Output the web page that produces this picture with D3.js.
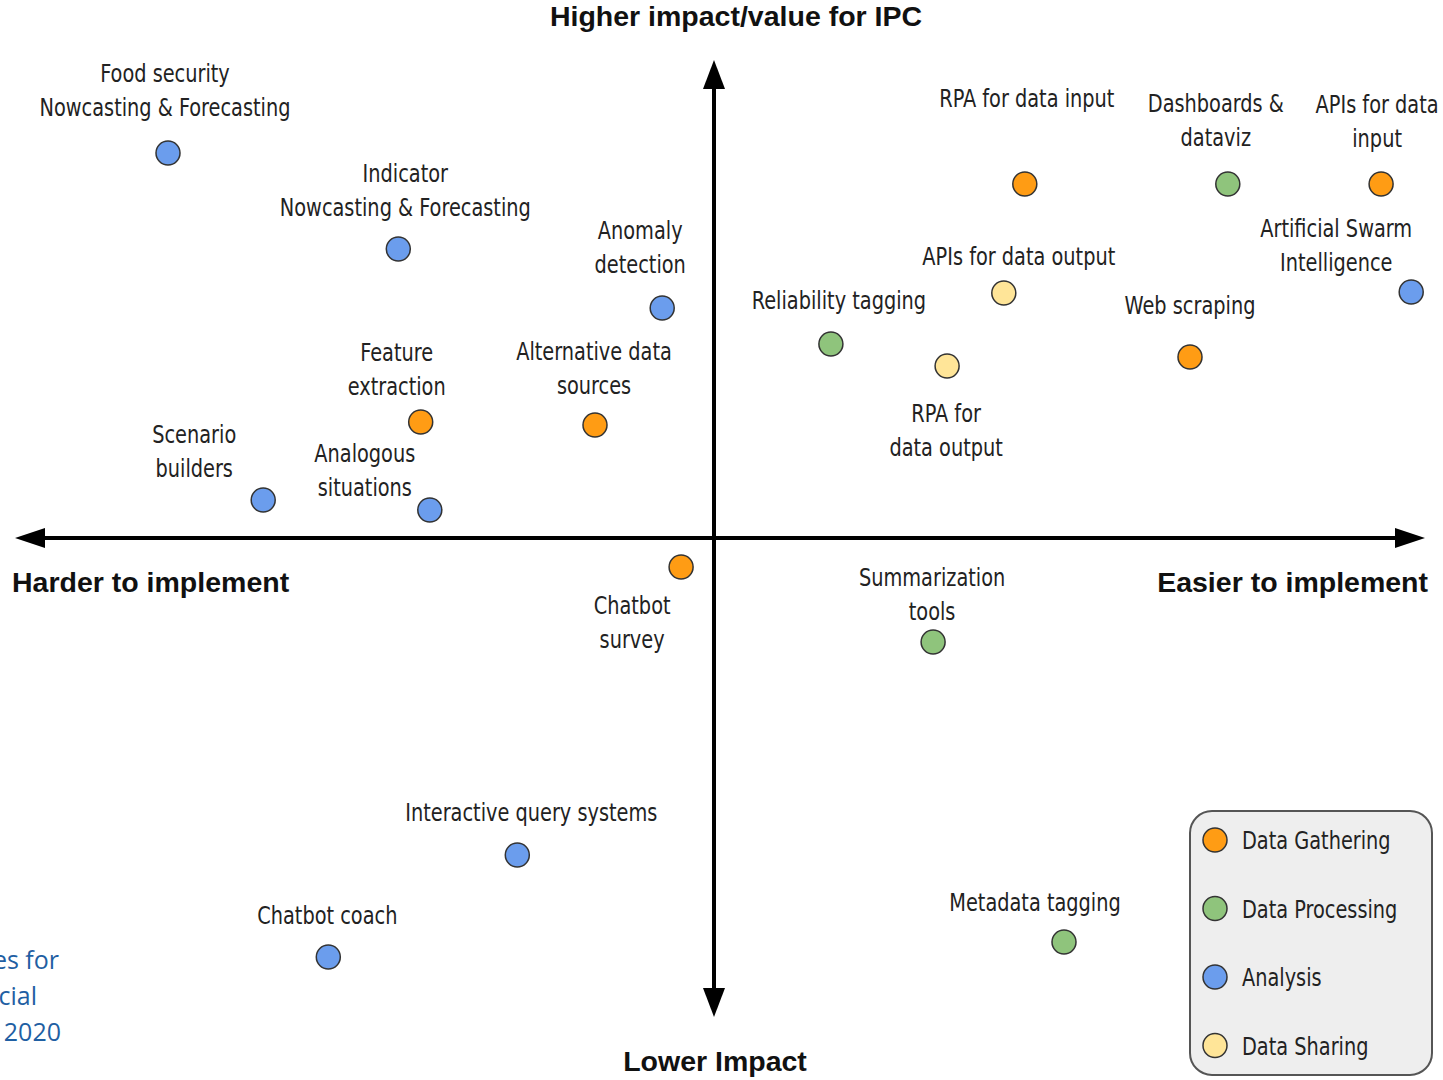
<!DOCTYPE html>
<html>
<head>
<meta charset="utf-8">
<script src="https://cdn.jsdelivr.net/npm/d3@7"></script>
<style>
  body { margin: 0; background: #fff; }
  svg { display: block; }
  .lbl { font-family: "DejaVu Sans Condensed", "DejaVu Sans", sans-serif; font-size: 25px; fill: #222; }
  .axt { font-family: "Liberation Sans", Arial, sans-serif; font-weight: bold; font-size: 28.5px; fill: #111; }
</style>
</head>
<body>
<div id="chart"></div>
<script>
var width = 1443, height = 1080;
var squeeze = 0.86; // narrow the label font horizontally

// categories and colours
var categories = ["Data Gathering", "Data Processing", "Analysis", "Data Sharing"];
var catColors = ["#ff9c14", "#8fc47c", "#6b9ded", "#ffe598"];

// items: ease (x, -100..100), impact (y, -100..100)
var names = [
  "Food security\nNowcasting & Forecasting",
  "Indicator\nNowcasting & Forecasting",
  "Anomaly\ndetection",
  "Feature\nextraction",
  "Alternative data\nsources",
  "Scenario\nbuilders",
  "Analogous\nsituations",
  "Chatbot\nsurvey",
  "Summarization\ntools",
  "Interactive query systems",
  "Chatbot coach",
  "Metadata tagging",
  "RPA for data input",
  "Dashboards &\ndataviz",
  "APIs for data\ninput",
  "Artificial Swarm\nIntelligence",
  "APIs for data output",
  "Reliability tagging",
  "Web scraping",
  "RPA for\ndata output"
];
var ease = [-78.0, -45.1, -7.4, -41.9, -17.0, -64.4, -40.6, -4.7, 31.3, -28.1, -55.1, 50.0, 44.4, 73.4, 95.3, 99.6, 41.4, 16.7, 68.0, 33.3];
var impact = [77.0, 57.8, 46.0, 23.2, 22.6, 7.6, 5.6, -5.8, -20.8, -63.4, -83.8, -80.8, 70.8, 70.8, 70.8, 49.2, 49.0, 38.8, 36.2, 34.4];
var group = [2, 2, 2, 0, 0, 2, 2, 0, 1, 2, 2, 1, 0, 1, 0, 2, 3, 1, 0, 3];

// label placement relative to the dot: [dx of text centre, dy of first baseline]
var labelOffset = [
  [-3, -71], [7, -67], [-22, -69], [-24, -61], [-1, -65], [-69, -57], [-65, -48],
  [-49, 47], [-1, -56], [14, -34], [-1, -33], [-29, -31], [2, -77], [-12, -72],
  [-4, -71], [-75, -55], [15, -28], [8, -35], [0, -43], [-1, 56]
];

var svg = d3.select("#chart").append("svg")
    .attr("width", width)
    .attr("height", height);

var x = d3.scaleLinear().domain([-100, 100]).range([14, 1414]);
var y = d3.scaleLinear().domain([-100, 100]).range([1038, 38]);

// axes with arrowheads
var cx = x(0), cy = y(0);
svg.append("line")
    .attr("x1", 40).attr("x2", 1400)
    .attr("y1", cy).attr("y2", cy)
    .attr("stroke", "#000").attr("stroke-width", 4);
svg.append("line")
    .attr("x1", cx).attr("x2", cx)
    .attr("y1", 85).attr("y2", 992)
    .attr("stroke", "#000").attr("stroke-width", 4);

var arrows = [
  [[cx, 60], [cx - 11, 89], [cx + 11, 89]],
  [[cx, 1017], [cx - 11, 988], [cx + 11, 988]],
  [[15, cy], [45, cy - 10], [45, cy + 10]],
  [[1425, cy], [1395, cy - 10], [1395, cy + 10]]
];
svg.selectAll(".arrow").data(arrows).enter().append("path")
    .attr("class", "arrow")
    .attr("d", function(d) { return "M" + d.join("L") + "Z"; })
    .attr("fill", "#000");

// axis titles
svg.append("text").attr("class", "axt")
    .attr("x", 736).attr("y", 26).attr("text-anchor", "middle")
    .text("Higher impact/value for IPC");
svg.append("text").attr("class", "axt")
    .attr("x", 715).attr("y", 1071).attr("text-anchor", "middle")
    .text("Lower Impact");
svg.append("text").attr("class", "axt")
    .attr("x", 12).attr("y", 592)
    .text("Harder to implement");
svg.append("text").attr("class", "axt")
    .attr("x", 1428).attr("y", 592).attr("text-anchor", "end")
    .text("Easier to implement");

// clipped source text at the bottom left
var srcLines = ["es for", "cial", "2020"];
svg.selectAll(".src").data(srcLines).enter().append("text")
    .attr("class", "src")
    .attr("x", function(d, i) { return [59, 37, 61][i]; })
    .attr("y", function(d, i) { return 969 + i * 36; })
    .attr("text-anchor", "end")
    .attr("font-family", "'Open Sans', sans-serif")
    .attr("font-size", 25)
    .attr("fill", "#1f5fa3")
    .text(function(d) { return d; });

// points
var items = names.map(function(n, i) {
  return { name: n, x: ease[i], y: impact[i], g: group[i], off: labelOffset[i] };
});

var node = svg.selectAll(".node")
    .data(items)
    .enter().append("g")
    .attr("class", "node")
    .attr("transform", function(d) { return "translate(" + x(d.x) + "," + y(d.y) + ")"; });

node.append("circle")
    .attr("r", 12)
    .attr("fill", function(d) { return catColors[d.g]; })
    .attr("stroke", "#333")
    .attr("stroke-width", 1.5);

node.append("text")
    .attr("class", "lbl")
    .attr("text-anchor", "middle")
    .attr("transform", "scale(" + squeeze + ",1)")
    .selectAll("tspan")
    .data(function(d) { return d.name.split("\n").map(function(t) { return { t: t, off: d.off }; }); })
    .enter().append("tspan")
    .attr("x", function(d) { return d.off[0] / squeeze; })
    .attr("y", function(d, i) { return d.off[1] + i * 34; })
    .text(function(d) { return d.t; });

// legend
var legend = svg.append("g").attr("transform", "translate(1190,811)");
legend.append("rect")
    .attr("x", 0).attr("y", 0)
    .attr("width", 242).attr("height", 264)
    .attr("rx", 22)
    .attr("fill", "#eeeeee")
    .attr("stroke", "#555")
    .attr("stroke-width", 2);

var li = legend.selectAll(".li").data(categories).enter().append("g")
    .attr("class", "li")
    .attr("transform", function(d, i) { return "translate(25," + (29 + i * 68.5) + ")"; });
li.append("circle")
    .attr("r", 12)
    .attr("fill", function(d, i) { return catColors[i]; })
    .attr("stroke", "#333")
    .attr("stroke-width", 1.5);
li.append("text")
    .attr("class", "lbl")
    .attr("transform", "scale(" + squeeze + ",1)")
    .attr("x", 27 / squeeze).attr("y", 9)
    .text(function(d) { return d; });
</script>
</body>
</html>
